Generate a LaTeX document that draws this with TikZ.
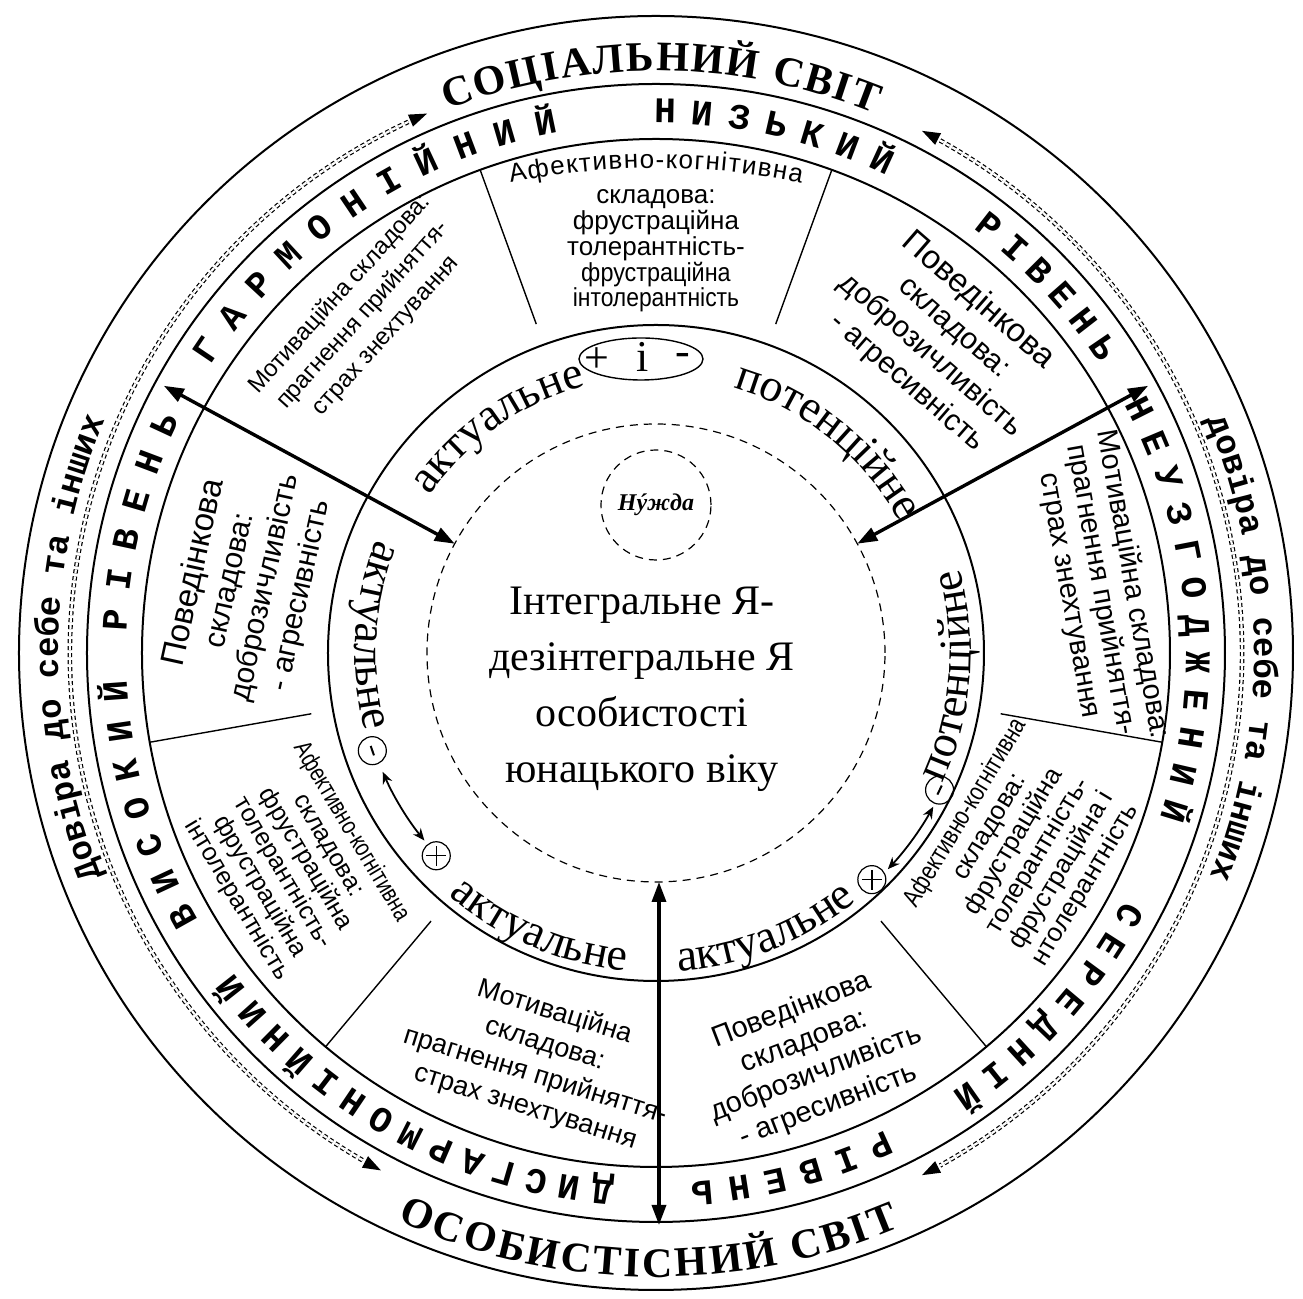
\documentclass[tikz,border=0pt]{standalone}
\usepackage{fontspec}
\usepackage{graphicx}
\setmainfont{Liberation Serif}
\newfontfamily\sansf{Liberation Sans}
\newfontfamily\monof{Liberation Mono}
\usetikzlibrary{decorations.text,arrows.meta,calc}
\newcommand\arcletters[7]{%
  \foreach \ch [count=\i from 0] in {#7}{%
    \pgfmathsetmacro\ang{#4+\i*(#5)}%
    \node[#1, rotate={\ang+(#6)}] (#2\i) at (\ang:#3) {\ch};}}
\newcommand\arctip[4]{%
  \coordinate (#1) at (#2:#3);
  \fill[shift={(#1)}, rotate=#4] (0,0) -- (-18,6.5) -- (-18,-6.5) -- cycle;}
\newcommand\arctext[6]{%
  \path[decorate, decoration={text along path, text={|#1|#5}, text align=#6}] (#3:#2) arc[start angle=#3, end angle=#4, radius=#2];}
\begin{document}
\begin{tikzpicture}[x=0.5pt,y=0.5pt,
  ring/.style={line width=1pt},
  sep/.style={line width=0.7pt},
  bigarrow/.style={line width=1.7pt, {Triangle[length=10pt,width=7pt]}-{Triangle[length=10pt,width=7pt]}},
  smallarrow/.style={line width=0.9pt, {Stealth[length=6pt,width=5pt]}-{Stealth[length=6pt,width=5pt]}},
  dbldash/.style={line width=0.6pt, double, double distance=1.1pt, dash pattern=on 2pt off 1.5pt},
  dashcirc/.style={line width=0.6pt, dash pattern=on 4pt off 3pt},
  ringletter/.style={font=\monof\bfseries\fontsize{18}{18}\selectfont, inner sep=0pt, anchor=base},
  blk/.style={align=center, inner sep=0pt},
  sign/.style={font=\fontsize{22}{22}\selectfont, inner sep=0pt},
  smallcirc/.style={circle, draw, line width=0.6pt, minimum size=14pt, inner sep=0pt}
]
\useasboundingbox (-656,-646) rectangle (647,653);
\fill[white] (-656,-646) rectangle (647,653);

% circles
\draw[ring] (0,0) circle[radius=637];
\draw[ring] (0,0) circle[radius=569];
\draw[ring] (0,0) circle[radius=514];
\draw[ring] (0,0) circle[radius=328];
\draw[dashcirc] (0,0) circle[radius=229];
\node[circle, draw, dashcirc, minimum size=55pt, inner sep=0pt, font=\bfseries\itshape\fontsize{12}{12}\selectfont] (need) at (0,148) {Нýжда};

% separators
\foreach \a [count=\k] in {70,110,190,230,310,350}
  \draw[sep] (\a:350) coordinate (sa\k) -- (\a:514) coordinate (sb\k);

% radial arrows
\coordinate (aLi) at (151.5:229); \coordinate (aLo) at (151.5:560);
\coordinate (aRi) at (28.5:229);  \coordinate (aRo) at (28.5:560);
\coordinate (aBi) at (3,-229);    \coordinate (aBo) at (3,-572);
\draw[bigarrow] (aLi) -- (aLo);
\draw[bigarrow] (aRi) -- (aRo);
\draw[bigarrow] (aBi) -- (aBo);

% centre text
\node[blk, font=\fontsize{21}{28}\selectfont] (core) at (-14,-36) {Інтегральне Я-\\дезінтегральне Я\\особистості\\юнацького віку};

% outer ring titles
\arctext{\bfseries\fontsize{21}{21}\selectfont}{582}{111}{68}{СОЦІАЛЬНИЙ СВІТ}{fit to path}
\arctext{\bfseries\fontsize{21}{21}\selectfont}{624}{245.5}{293}{ОСОБИСТІСНИЙ СВІТ}{fit to path}
\arctext{\monof\bfseries\fontsize{17}{17}\selectfont}{598}{205}{154}{Довіра до себе та інших}{center}
\arctext{\monof\bfseries\fontsize{17}{17}\selectfont}{598}{26}{-25}{довіра до себе та інших}{center}

% double dashed arcs with tips
\draw[dbldash] (115:586) arc[start angle=115, end angle=240, radius=586];
\draw[dbldash] (61:586) arc[start angle=61, end angle=-61, radius=586];
\arctip{tA}{113}{586}{23}
\arctip{tB}{242}{586}{332}
\arctip{tC}{63}{586}{153}
\arctip{tD}{-63}{586}{-153}

% second ring letters
\arcletters{ringletter}{v}{530}{209.2}{-4.18}{-90}{В,И,С,О,К,И,Й}
\arcletters{ringletter}{ra}{530}{176.5}{-4.28}{-90}{Р,І,В,Е,Н,Ь}
\arcletters{ringletter}{g}{530}{146}{-4.42}{-90}{Г,А,Р,М,О,Н,І,Й,Н,И,Й}
\arcletters{ringletter}{n}{530}{89}{-3.95}{-90}{Н,И,З,Ь,К,И,Й}
\arcletters{ringletter}{rb}{530}{52}{-3.54}{-90}{Р,І,В,Е,Н,Ь}
\arcletters{ringletter}{u}{530}{26.8}{-3.98}{-90}{Н,Е,У,З,Г,О,Д,Ж,Е,Н,И,Й}
\arcletters{ringletter}{s}{530}{-29}{-3.71}{-90}{С,Е,Р,Е,Д,Н,І,Й}
\arcletters{ringletter}{rc}{530}{-65.5}{-3.9}{-90}{Р,І,В,Е,Н,Ь}
\arcletters{ringletter}{d}{530}{-95.7}{-3.54}{-90}{Д,И,С,Г,А,Р,М,О,Н,І,Й,Н,И,Й}

% sector texts
\path[decorate, decoration={text along path, text={|\sansf\fontsize{13}{13}\selectfont|Афективно-когнітивна}, text align={fit to path}}] ($(0,-235)+(101.65:720)$) arc[start angle=101.65, end angle=78.35, radius=720];
\node[blk, font=\sansf\fontsize{13}{12.9}\selectfont] (afT) at (0,402) {складова:\\фрустраційна\\толерантність-\\\scalebox{0.9}[1]{фрустраційна}\\\scalebox{0.88}[1]{інтолерантність}};
\node[blk, rotate=48, font=\sansf\fontsize{12}{15.5}\selectfont] (motTL) at (-293,338) {Мотиваційна складова:\\прагнення прийняття-\\страх знехтування};
\node[blk, rotate=77.6, font=\sansf\fontsize{15}{18}\selectfont] (behL) at (-409,69) {{\fontsize{16.5}{18}\selectfont Поведінкова}\\складова:\\доброзичливість\\- агресивність};
\node[blk, rotate=-41, font=\sansf\fontsize{15}{18}\selectfont] (behTR) at (287,312) {{\fontsize{16.5}{18}\selectfont Поведінкова}\\складова:\\доброзичливість\\- агресивність};
\node[blk, rotate=-80, font=\sansf\fontsize{14.5}{16}\selectfont] (motR) at (445,63) {Мотиваційна складова:\\прагнення прийняття-\\страх знехтування};
\node[blk, rotate=-59.2, font=\sansf\fontsize{12.5}{13.3}\selectfont] (afBL) at (-362,-213) {\resizebox{102pt}{\height}{Афективно-когнітивна}\\складова:\\фрустраційна\\толерантність-\\фрустраційна\\інтолерантність};
\node[blk, rotate=59, font=\sansf\fontsize{13}{14}\selectfont] (afBR) at (370,-196) {\resizebox{107pt}{\height}{Афективно-когнітивна}\\складова:\\фрустраційна\\толерантність-\\фрустраційна і\\нтолерантність};
\node[blk, rotate=-17.2, font=\sansf\fontsize{13.5}{16.5}\selectfont] (motB) at (-116,-407) {Мотиваційна\\складова:\\прагнення прийняття-\\страх знехтування};
\node[blk, rotate=21, font=\sansf\fontsize{14.5}{17}\selectfont] (behB) at (154,-405) {Поведінкова\\складова:\\доброзичливість\\- агресивність};

% inner ring words
\arctext{\fontsize{23}{23}\selectfont}{276}{150}{100}{актуальне}{center}
\arctext{\fontsize{23}{23}\selectfont}{276}{76}{26}{потенційне}{center}
\arctext{\fontsize{23}{23}\selectfont}{301}{156.5}{196.5}{актуальне}{center}
\arctext{\fontsize{23}{23}\selectfont}{319}{226}{268}{актуальне}{center}
\arctext{\fontsize{23}{23}\selectfont}{319}{270.5}{312.5}{актуальне}{center}
\arctext{\fontsize{23}{23}\selectfont}{315}{335}{376}{потенційне}{center}

% ellipse + i -
\draw[line width=0.7pt] (-15,294) ellipse[x radius=62, y radius=21];
\node[sign] (pl) at (-59,293) {+};
\node[sign] (ii) at (-13,296) {і};
\node[sign] (mi) at (27,293) {-};

% small circles
\node[smallcirc] (mL) at (199:300) {};
\draw[line width=1pt] ($(mL)+(109:5)$) -- ($(mL)+(289:5)$);
\node[smallcirc] (pL) at (222.7:299) {};
\draw[line width=0.7pt] ($(pL)+(-10,0)$) -- ($(pL)+(10,0)$) ($(pL)+(0,-10)$) -- ($(pL)+(0,10)$);
\node[smallcirc] (pR) at (313.6:313) {};
\draw[line width=0.7pt] ($(pR)+(-10,0)$) -- ($(pR)+(10,0)$) ($(pR)+(0,-10)$) -- ($(pR)+(0,10)$);
\node[smallcirc] (mR) at (334.2:315) {};
\draw[line width=1pt] ($(mR)+(64:5)$) -- ($(mR)+(244:5)$);
\draw[smallarrow] (203.5:298) arc[start angle=203.5, end angle=219, radius=298];
\draw[smallarrow] (317:317) arc[start angle=317, end angle=331, radius=317];
\end{tikzpicture}
\end{document}
